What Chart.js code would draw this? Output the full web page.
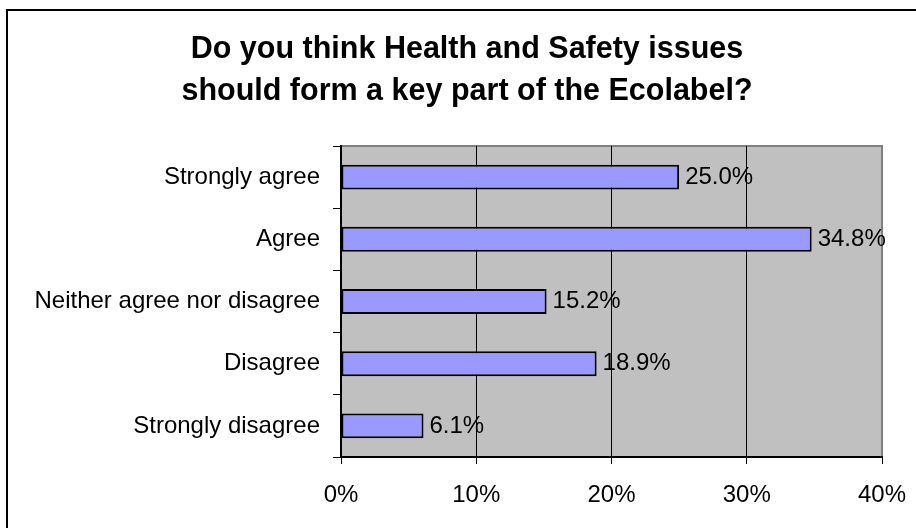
<!DOCTYPE html>
<html>
<head>
<meta charset="utf-8">
<script src="https://cdn.jsdelivr.net/npm/chart.js@4/dist/chart.umd.min.js"></script>
<style>
  html, body { margin: 0; padding: 0; background: #fff; }
  #wrap { width: 916px; height: 528px; }
</style>
</head>
<body>
<div id="wrap"><canvas id="ecoChart" width="916" height="528"></canvas></div>
<script>
const answers = ['Strongly agree', 'Agree', 'Neither agree nor disagree', 'Disagree', 'Strongly disagree'];
const shares = [25.0, 34.8, 15.2, 18.9, 6.1];
const titleLines = ['Do you think Health and Safety issues', 'should form a key part of the Ecolabel?'];

const FONT = '"Liberation Sans", Arial, sans-serif';

// gray plot panel, outer frame and the two-line heading
const panel = {
  id: 'panel',
  beforeDraw(chart) {
    const c = chart.ctx, a = chart.chartArea;
    c.save();
    c.fillStyle = '#fff';
    c.fillRect(0, 0, chart.width, chart.height);
    c.strokeStyle = '#000';
    c.lineWidth = 2;
    c.strokeRect(7, 10, 1000, 1000);
    c.fillStyle = '#c0c0c0';
    c.fillRect(a.left, a.top, a.right - a.left, a.bottom - a.top);
    c.strokeStyle = '#808080';
    c.lineWidth = 2;
    c.beginPath();
    c.moveTo(a.left, a.top);
    c.lineTo(a.right, a.top);
    c.lineTo(a.right, a.bottom);
    c.stroke();

    c.fillStyle = '#000';
    c.font = 'bold 30.5px ' + FONT;
    c.textAlign = 'center';
    c.textBaseline = 'middle';
    titleLines.forEach((line, i) => c.fillText(line, 467, 50 + i * 42));
    c.restore();
  }
};

// percentage next to each bar
const valueLabels = {
  id: 'valueLabels',
  afterDatasetsDraw(chart) {
    const c = chart.ctx;
    const meta = chart.getDatasetMeta(0);
    c.save();
    c.font = '24px ' + FONT;
    c.fillStyle = '#000';
    c.textBaseline = 'middle';
    c.textAlign = 'left';
    meta.data.forEach((bar, i) => {
      c.fillText(shares[i].toFixed(1) + '%', bar.x + 6, bar.y);
    });
    c.restore();
  }
};

new Chart(document.getElementById('ecoChart'), {
  type: 'bar',
  data: {
    labels: answers,
    datasets: [{
      data: shares,
      backgroundColor: '#9999ff',
      borderColor: '#000',
      borderWidth: 2,
      borderSkipped: false,
      barPercentage: 0.4,
      categoryPercentage: 1
    }]
  },
  options: {
    indexAxis: 'y',
    responsive: false,
    animation: false,
    events: [],
    layout: { padding: { left: 0, right: 34, top: 146, bottom: 0 } },
    plugins: {
      legend: { display: false },
      tooltip: { enabled: false },
      title: { display: false }
    },
    scales: {
      x: {
        min: 0,
        max: 40,
        ticks: {
          stepSize: 10,
          color: '#000',
          font: { family: FONT, size: 24 },
          padding: 17,
          maxRotation: 0,
          callback: v => v + '%'
        },
        grid: {
          color: ctx => ctx.tick && ctx.tick.value === 40 ? '#808080' : '#000',
          tickColor: '#000',
          tickLength: 7,
          lineWidth: 1
        },
        border: { color: '#000', width: 2 },
        afterFit: s => {
          s.height = 71;
          // keep the edge labels from widening the side margins
          s.paddingLeft = 0;
          s.paddingRight = 0;
        }
      },
      y: {
        ticks: {
          color: '#000',
          font: { family: FONT, size: 24 },
          padding: 13
        },
        grid: {
          drawOnChartArea: false,
          color: '#000',
          tickLength: 8
        },
        border: { color: '#000', width: 2 },
        afterFit: s => { s.width = 341; }
      }
    }
  },
  plugins: [panel, valueLabels]
});
</script>
</body>
</html>
